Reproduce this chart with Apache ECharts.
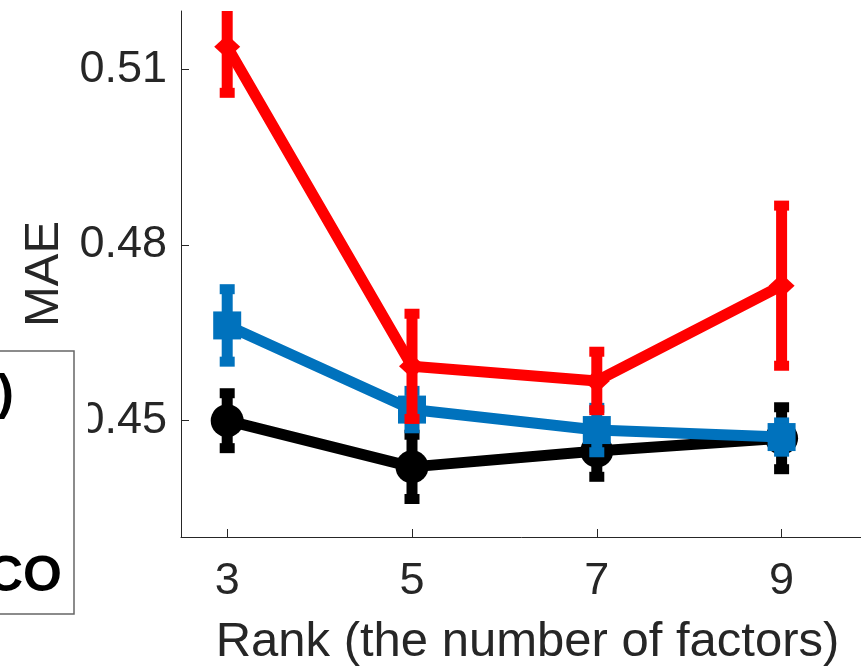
<!DOCTYPE html>
<html>
<head>
<meta charset="utf-8">
<script src="https://cdn.jsdelivr.net/npm/echarts@6/dist/echarts.min.js"></script>
<style>
  html, body { margin: 0; padding: 0; background: #fff; }
  #chart { width: 861px; height: 667px; }
</style>
</head>
<body>
<div id="chart"></div>
<script>
// Rank values on the x axis
const ranks = [3, 5, 7, 9];

// Mean MAE and error (half-length of the bar) for each method
const maeBlack = [0.4499, 0.4420, 0.4447, 0.4469];
const errBlack = [0.0047, 0.0055, 0.0044, 0.0053];

const maeBlue = [0.4662, 0.4518, 0.4483, 0.4471];
const errBlue = [0.0062, 0.0032, 0.0038, 0.0025];

const maeRed = [0.5139, 0.4592, 0.4567, 0.4730];
const errRed = [0.0079, 0.0090, 0.0050, 0.0137];

// Axis ticks
const xTicks = [3, 5, 7, 9];
const yTicks = [0.45, 0.48, 0.51];

const FONT = "'Liberation Sans', Arial, Helvetica, sans-serif";
const AXIS_COLOR = '#262626';

function errorBars(name, means, errs, color, z) {
  return {
    type: 'custom',
    name: name,
    z: z,
    clip: true,
    silent: true,
    data: ranks.map((r, i) => [r, means[i] - errs[i], means[i] + errs[i]]),
    encode: { x: 0, y: [1, 2] },
    renderItem: function (params, api) {
      const x = api.value(0);
      const lo = api.coord([x, api.value(1)]);
      const hi = api.coord([x, api.value(2)]);
      const capW = 15, capH = 10;
      return {
        type: 'group',
        children: [
          { type: 'line', shape: { x1: lo[0], y1: lo[1], x2: hi[0], y2: hi[1] },
            style: { stroke: color, lineWidth: 11 } },
          { type: 'rect', shape: { x: lo[0] - capW / 2, y: lo[1] - capH / 2, width: capW, height: capH },
            style: { fill: color } },
          { type: 'rect', shape: { x: hi[0] - capW / 2, y: hi[1] - capH / 2, width: capW, height: capH },
            style: { fill: color } }
        ]
      };
    }
  };
}

function meanLine(name, means, color, symbol, size, z) {
  return {
    type: 'line',
    name: name,
    z: z,
    data: ranks.map((r, i) => [r, means[i]]),
    symbol: symbol,
    symbolSize: size,
    showAllSymbol: true,
    lineStyle: { color: color, width: 11 },
    itemStyle: { color: color, borderWidth: 0 },
    emphasis: { disabled: true }
  };
}

const chart = echarts.init(document.getElementById('chart'), null, { renderer: 'canvas' });

chart.setOption({
  animation: false,
  backgroundColor: '#fff',
  grid: { left: 181, top: 11, right: -13, bottom: 130, containLabel: false, outerBoundsMode: 'none' },
  xAxis: {
    type: 'value',
    min: 2.5,
    max: 10,
    name: 'Rank (the number of factors)',
    nameLocation: 'middle',
    nameGap: 81,
    nameTextStyle: { fontSize: 49, color: AXIS_COLOR, fontFamily: FONT },
    axisLine: { show: true, lineStyle: { color: AXIS_COLOR, width: 1 } },
    axisTick: { show: true, inside: true, length: 8, customValues: xTicks,
                lineStyle: { color: AXIS_COLOR, width: 1 } },
    axisLabel: { customValues: xTicks, fontSize: 45, color: AXIS_COLOR, fontFamily: FONT, margin: 22 },
    splitLine: { show: false }
  },
  yAxis: {
    type: 'value',
    min: 0.43,
    max: 0.52,
    name: 'MAE',
    nameLocation: 'middle',
    nameRotate: 90,
    nameGap: 112,
    nameTextStyle: { fontSize: 49, color: AXIS_COLOR, fontFamily: FONT },
    axisLine: { show: true, lineStyle: { color: AXIS_COLOR, width: 1 } },
    axisTick: { show: true, inside: true, length: 8, customValues: yTicks,
                lineStyle: { color: AXIS_COLOR, width: 1 } },
    axisLabel: { customValues: yTicks, fontSize: 45, color: AXIS_COLOR, fontFamily: FONT, margin: 14,
                 formatter: v => v.toFixed(2) },
    splitLine: { show: false }
  },
  series: [
    errorBars('Method 1', maeBlack, errBlack, '#000000', 2),
    meanLine('Method 1', maeBlack, '#000000', 'circle', 33, 3),
    errorBars('Method 2', maeBlue, errBlue, '#0072BD', 4),
    meanLine('Method 2', maeBlue, '#0072BD', 'rect', 28, 5),
    errorBars('Method 3', maeRed, errRed, '#FF0000', 6),
    meanLine('Method 3', maeRed, '#FF0000', 'diamond', [26, 24], 7)
  ],
  graphic: [
    // legend box (partly outside the canvas)
    { type: 'rect', z: 100, shape: { x: -10, y: 400, width: 98, height: 40 },
      style: { fill: '#fff' } },
    { type: 'rect', z: 101, shape: { x: -20, y: 351, width: 94, height: 263 },
      style: { fill: '#fff', stroke: '#666', lineWidth: 1.5 } },
    { type: 'text', z: 102, x: 14, y: 395,
      style: { text: ')', fontSize: 50, fontWeight: 'bold', fontFamily: FONT, fill: '#000',
               align: 'right', verticalAlign: 'middle' } },
    { type: 'text', z: 102, x: 62, y: 577,
      style: { text: 'CO', fontSize: 50, fontWeight: 'bold', fontFamily: FONT, fill: '#000',
               align: 'right', verticalAlign: 'middle' } }
  ]
});
</script>
</body>
</html>
